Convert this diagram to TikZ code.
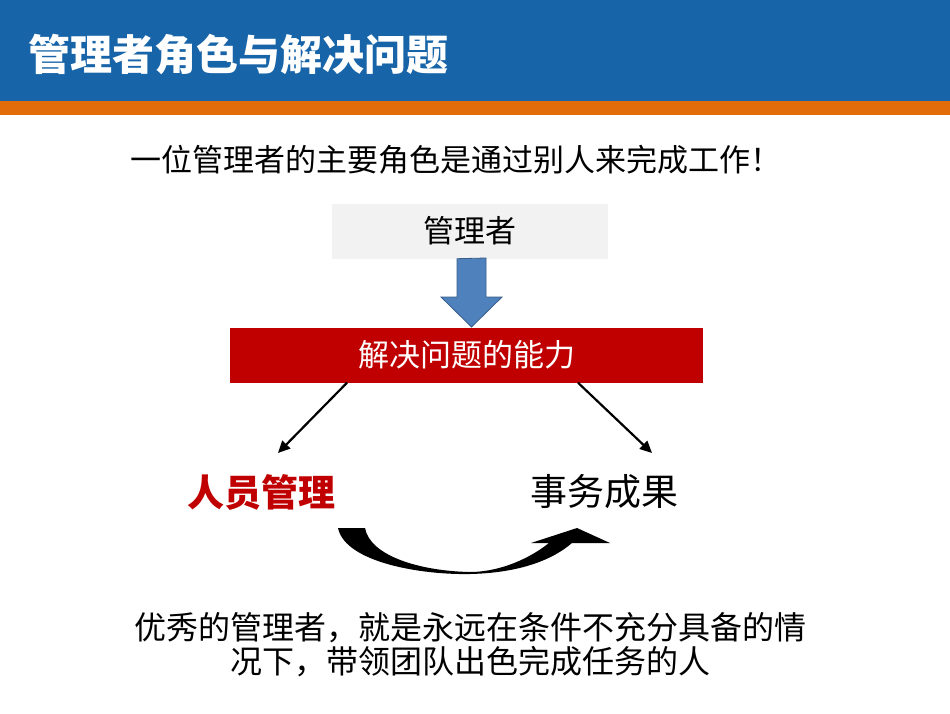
\documentclass[tikz,border=0pt]{standalone}
\usepackage{fontspec}
\usepackage{xcolor}
\usepackage{tikz}
\usetikzlibrary{arrows.meta}
\setmainfont{Noto Sans CJK SC}
\definecolor{headblue}{RGB}{23,100,168}
\definecolor{headorange}{RGB}{227,108,10}
\definecolor{boxgray}{RGB}{242,242,242}
\definecolor{boxred}{RGB}{192,0,0}
\definecolor{arrowblue}{RGB}{79,129,189}
\definecolor{arrowedge}{RGB}{56,93,138}
\begin{document}
\begin{tikzpicture}[x=1pt,y=-1pt]
	\tikzstyle{txt}=[inner sep=0pt,font=\fontsize{31}{38}\selectfont]
	\tikzstyle{link}=[-{Triangle[length=12pt,width=11pt]},line width=2.2pt]
	\useasboundingbox (0,0) rectangle (950,713);
	% header
	\fill[headblue] (0,0) rectangle (950,101);
	\fill[headorange] (0,101) rectangle (950,115);
	\node[inner sep=0pt,anchor=west,text=white,font=\fontsize{42}{48}\selectfont\bfseries](title) at (28,55) {管理者角色与解决问题};
	\node[txt](intro) at (456,160) {一位管理者的主要角色是通过别人来完成工作！};
	% boxes
	\node[fill=boxgray,minimum width=276pt,minimum height=55pt,txt](mgr) at (470,231) {管理者};
	\node[fill=boxred,minimum width=473pt,minimum height=55pt,txt,text=white](skill) at (466.5,355) {解决问题的能力};
	\draw[fill=arrowblue,draw=arrowedge,line width=0.8pt] (mgr.south -| 457,0) -- (486,258) -- (486,297) -- (502,297) -- (471.5,327) -- (441,297) -- (457,297) -- cycle;
	% two results
	\node[txt,text=boxred,font=\fontsize{37}{40}\selectfont\bfseries](people) at (261,492) {人员管理};
	\node[txt,font=\fontsize{37}{40}\selectfont](result) at (604,492) {事务成果};
	\coordinate (people-in) at (278,453);
	\coordinate (result-in) at (652,453);
	\draw[link] ([xshift=-119.5pt]skill.south) -- (people-in);
	\draw[link] ([xshift=111.5pt]skill.south) -- (result-in);
	% curved arrow
	\fill[black] (338,528) .. controls (345,562) and (420,575) .. (470,574)
		.. controls (515,573) and (550,562) .. (572,543) -- (610,543) -- (577,528) -- (531,543) -- (549,543)
		.. controls (525,562) and (495,572) .. (470,572)
		.. controls (420,571) and (370,556) .. (365,528) -- cycle;
	% closing words
	\node[txt,align=center,font=\fontsize{32}{34}\selectfont](note) at (470,645) {优秀的管理者，就是永远在条件不充分具备的情\\况下，带领团队出色完成任务的人};
\end{tikzpicture}
\end{document}
